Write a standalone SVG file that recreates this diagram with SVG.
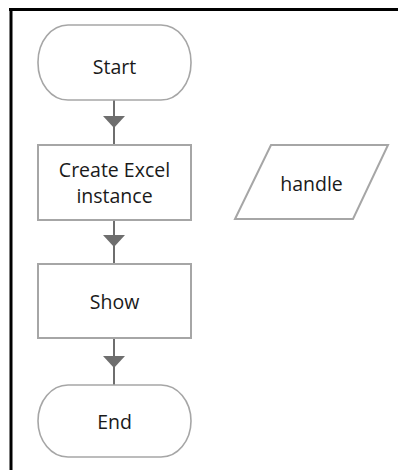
<svg xmlns="http://www.w3.org/2000/svg" width="398" height="470" viewBox="0 0 398 470">
  <defs>
    <style>
      .shape { fill: #ffffff; stroke: #a6a6a6; stroke-width: 2; }
      .term { fill: #ffffff; stroke: #a6a6a6; stroke-width: 1.6; }
      .label { font-family: "Open Sans", "DejaVu Sans", sans-serif; font-size: 19.5px; fill: #1a1a1a; text-anchor: middle; }
      .conn { fill: none; stroke: #6e6e6e; stroke-width: 2; marker-mid: url(#arrow); }
    </style>
    <marker id="arrow" markerUnits="userSpaceOnUse" markerWidth="14" markerHeight="24" refX="12" refY="12" viewBox="0 0 14 24" orient="auto">
      <path d="M0,1 L12,12 L0,23 Z" fill="#6e6e6e"/>
    </marker>
  </defs>
  <rect width="398" height="470" fill="#ffffff"/>
  <g id="frame">
    <line x1="9" y1="9.5" x2="398" y2="9.5" stroke="#000" stroke-width="3"/>
    <line x1="11" y1="8" x2="11" y2="470" stroke="#000" stroke-width="3"/>
  </g>
  <g id="connectors">
    <path class="conn" d="M114,100 L114,128 L114,145"/>
    <path class="conn" d="M114,220 L114,247 L114,264"/>
    <path class="conn" d="M114,338 L114,368 L114,385"/>
  </g>
  <g id="start">
    <rect class="term" x="38" y="25" width="153" height="75" rx="30" ry="37"/>
    <text class="label" x="114.5" y="73.5">Start</text>
  </g>
  <g id="create">
    <rect class="shape" x="38" y="145" width="153" height="75"/>
    <text class="label" x="114.5" y="177">Create Excel</text>
    <text class="label" x="114.5" y="203">instance</text>
  </g>
  <g id="handle">
    <polygon class="shape" points="271,145 388,145 353,219 235,219"/>
    <text class="label" x="311.5" y="191">handle</text>
  </g>
  <g id="show">
    <rect class="shape" x="38" y="264" width="153" height="74"/>
    <text class="label" x="114.5" y="308.5">Show</text>
  </g>
  <g id="end">
    <rect class="term" x="38" y="385" width="153" height="72" rx="30" ry="36"/>
    <text class="label" x="114.5" y="428.5">End</text>
  </g>
</svg>
